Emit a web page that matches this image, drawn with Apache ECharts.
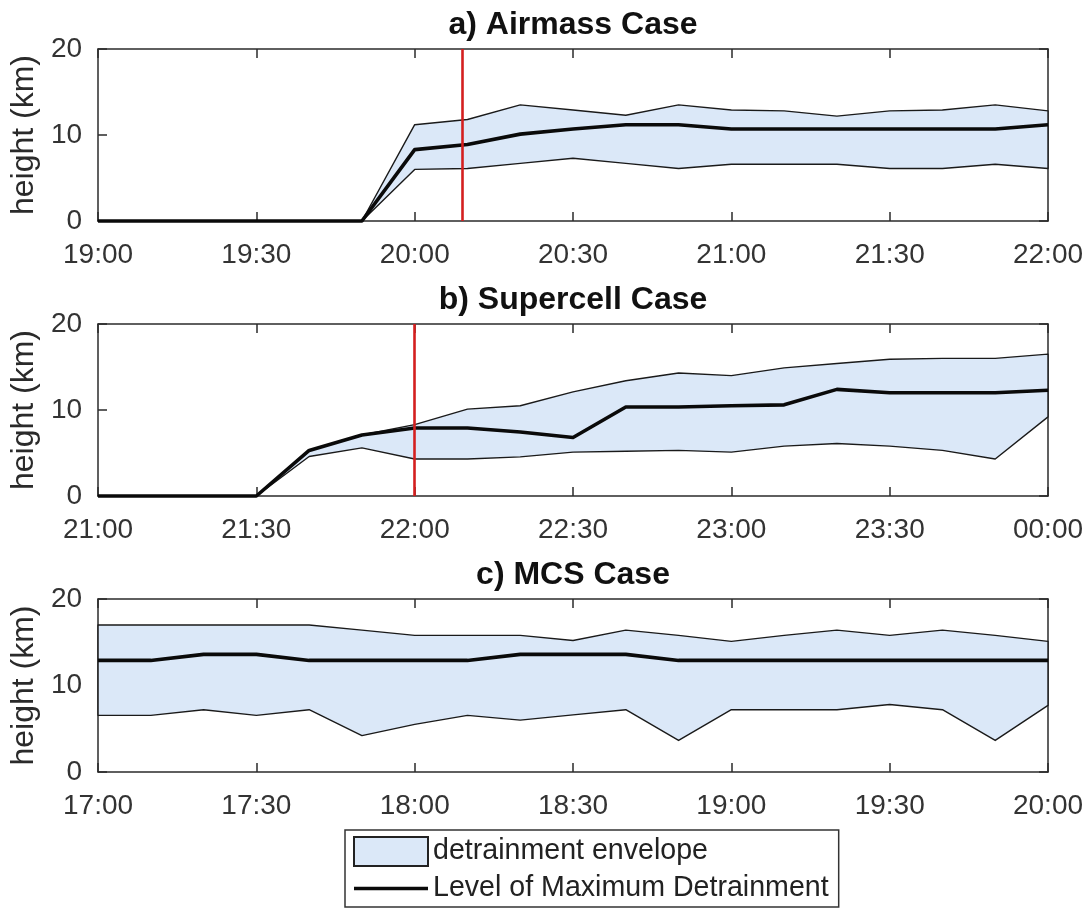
<!DOCTYPE html>
<html>
<head>
<meta charset="utf-8">
<script src="https://cdn.jsdelivr.net/npm/echarts@6/dist/echarts.min.js"></script>
<style>
  html, body { margin: 0; padding: 0; background: #fff; }
  #chart { width: 1091px; height: 911px; }
</style>
</head>
<body>
<div id="chart"></div>
<script>
// Sample times, minutes after the start of each 3-hour window (10-minute steps)
const minutes = [0, 10, 20, 30, 40, 50, 60, 70, 80, 90, 100, 110, 120, 130, 140, 150, 160, 170, 180];

// Time-axis tick labels, one every 30 minutes
const ticksA = ['19:00', '19:30', '20:00', '20:30', '21:00', '21:30', '22:00'];
const ticksB = ['21:00', '21:30', '22:00', '22:30', '23:00', '23:30', '00:00'];
const ticksC = ['17:00', '17:30', '18:00', '18:30', '19:00', '19:30', '20:00'];

// a) Airmass case: envelope top / bottom and level of maximum detrainment (km)
const upperA = [0, 0, 0, 0, 0, 0, 11.2, 11.8, 13.5, 12.9, 12.3, 13.5, 12.9, 12.8, 12.2, 12.8, 12.9, 13.5, 12.8];
const lmdA   = [0, 0, 0, 0, 0, 0, 8.3, 8.9, 10.1, 10.7, 11.2, 11.2, 10.7, 10.7, 10.7, 10.7, 10.7, 10.7, 11.2];
const lowerA = [0, 0, 0, 0, 0, 0, 6.0, 6.1, 6.7, 7.3, 6.7, 6.1, 6.6, 6.6, 6.6, 6.1, 6.1, 6.6, 6.1];

// b) Supercell case
const upperB = [0, 0, 0, 0, 5.3, 7.1, 8.3, 10.1, 10.5, 12.1, 13.4, 14.3, 14.0, 14.9, 15.4, 15.9, 16.0, 16.0, 16.5];
const lmdB   = [0, 0, 0, 0, 5.3, 7.1, 7.9, 7.9, 7.45, 6.8, 10.35, 10.35, 10.5, 10.6, 12.4, 12.0, 12.0, 12.0, 12.3];
const lowerB = [0, 0, 0, 0, 4.6, 5.6, 4.3, 4.3, 4.55, 5.1, 5.2, 5.3, 5.1, 5.8, 6.1, 5.8, 5.3, 4.3, 9.2];

// c) MCS case
const upperC = [17.0, 17.0, 17.0, 17.0, 17.0, 16.4, 15.8, 15.8, 15.8, 15.2, 16.4, 15.8, 15.1, 15.8, 16.4, 15.8, 16.4, 15.8, 15.1];
const lmdC   = [12.9, 12.9, 13.6, 13.6, 12.9, 12.9, 12.9, 12.9, 13.6, 13.6, 13.6, 12.9, 12.9, 12.9, 12.9, 12.9, 12.9, 12.9, 12.9];
const lowerC = [6.55, 6.55, 7.2, 6.55, 7.2, 4.2, 5.5, 6.55, 6.0, 6.6, 7.2, 3.65, 7.2, 7.2, 7.2, 7.8, 7.2, 3.65, 7.7];

// Vertical marker positions (minutes after window start)
const markA = 69;
const markB = 60;

const titles = ['a) Airmass Case', 'b) Supercell Case', 'c) MCS Case'];
const ENV_NAME = 'detrainment envelope';
const LMD_NAME = 'Level of Maximum Detrainment';

const FONT = '"Liberation Sans", Arial, Helvetica, sans-serif';
const AXIS_COLOR = '#2b2b2b';
const ENV_FILL = '#dbe8f8';

const panels = [
  { ticks: ticksA, upper: upperA, lmd: lmdA, lower: lowerA, mark: markA, top: 49, height: 172 },
  { ticks: ticksB, upper: upperB, lmd: lmdB, lower: lowerB, mark: markB, top: 324, height: 172 },
  { ticks: ticksC, upper: upperC, lmd: lmdC, lower: lowerC, mark: null, top: 599, height: 173 }
];

const grid = [], xAxis = [], yAxis = [], series = [], title = [];

function envelopeRenderer(upper, lower) {
  return function (params, api) {
    const pts = [];
    for (let i = 0; i < minutes.length; i++) pts.push(api.coord([minutes[i], upper[i]]));
    for (let i = minutes.length - 1; i >= 0; i--) pts.push(api.coord([minutes[i], lower[i]]));
    return {
      type: 'polygon',
      shape: { points: pts },
      style: { fill: ENV_FILL, stroke: '#1a1a1a', lineWidth: 1.4, lineJoin: 'round' }
    };
  };
}

// inward-pointing ticks, as on a boxed axes frame
function innerTicks() {
  return { show: true, inside: true, length: 9, lineStyle: { color: AXIS_COLOR, width: 1.5 } };
}
function frameLine() {
  return { show: true, onZero: false, lineStyle: { color: AXIS_COLOR, width: 1.5 } };
}

panels.forEach(function (p, k) {
  grid.push({ left: 98, right: 43, top: p.top, height: p.height, show: false });

  // bottom time axis with labels
  xAxis.push({
    gridIndex: k, type: 'value', position: 'bottom', min: 0, max: 180, interval: 30,
    axisLine: frameLine(), splitLine: { show: false },
    axisTick: innerTicks(),
    axisLabel: {
      fontFamily: FONT, fontSize: 28, color: '#333', margin: 20,
      formatter: (function (labels) { return function (v) { return labels[Math.round(v / 30)]; }; })(p.ticks)
    }
  });
  // top mirror axis (ticks only)
  xAxis.push({
    gridIndex: k, type: 'value', position: 'top', min: 0, max: 180, interval: 30,
    axisLine: frameLine(), splitLine: { show: false },
    axisTick: innerTicks(), axisLabel: { show: false }
  });

  yAxis.push({
    gridIndex: k, type: 'value', position: 'left', min: 0, max: 20, interval: 10,
    axisLine: frameLine(), splitLine: { show: false },
    axisTick: innerTicks(),
    axisLabel: { fontFamily: FONT, fontSize: 28, color: '#333', margin: 16 },
    name: 'height (km)', nameLocation: 'middle', nameGap: 52,
    nameTextStyle: { fontFamily: FONT, fontSize: 32, color: '#2a2a2a' }
  });
  yAxis.push({
    gridIndex: k, type: 'value', position: 'right', min: 0, max: 20, interval: 10,
    axisLine: frameLine(), splitLine: { show: false },
    axisTick: innerTicks(), axisLabel: { show: false }
  });

  title.push({
    text: titles[k], left: 568, top: p.top - 45, textAlign: 'center',
    textStyle: { fontFamily: FONT, fontSize: 32, fontWeight: 'bold', color: '#111' }
  });

  series.push({
    name: ENV_NAME, type: 'custom', xAxisIndex: 2 * k, yAxisIndex: 2 * k,
    data: [[0, 0]], renderItem: envelopeRenderer(p.upper, p.lower), z: 2,
    itemStyle: { color: ENV_FILL, borderColor: '#1a1a1a', borderWidth: 1.5 },
    silent: true
  });

  const lmdSeries = {
    name: LMD_NAME, type: 'line', xAxisIndex: 2 * k, yAxisIndex: 2 * k,
    data: minutes.map(function (t, i) { return [t, p.lmd[i]]; }),
    symbol: 'none', clip: false, z: 3,
    lineStyle: { color: '#0a0a0a', width: 3.6, join: 'round' },
    itemStyle: { color: '#0a0a0a' },
    animation: false
  };
  if (p.mark !== null) {
    lmdSeries.markLine = {
      symbol: 'none', silent: true, animation: false,
      label: { show: false },
      lineStyle: { color: '#d41f1f', width: 2.6, type: 'solid' },
      data: [{ xAxis: p.mark }]
    };
  }
  series.push(lmdSeries);
});

const chart = echarts.init(document.getElementById('chart'), null, { renderer: 'canvas' });
chart.setOption({
  backgroundColor: '#fff',
  animation: false,
  title: title,
  grid: grid,
  xAxis: xAxis,
  yAxis: yAxis,
  legend: {
    left: 345, top: 830, orient: 'vertical',
    padding: [6, 10, 4, 8], itemGap: 7, itemWidth: 74, itemHeight: 29,
    borderColor: '#333', borderWidth: 1.5, backgroundColor: '#fff',
    selectedMode: false,
    textStyle: { fontFamily: FONT, fontSize: 28.6, color: '#222' },
    data: [
      { name: ENV_NAME, icon: 'rect', itemStyle: { color: ENV_FILL, borderColor: '#222', borderWidth: 2 } },
      { name: LMD_NAME, icon: 'path://M0,0H74V3.6H0Z', itemStyle: { color: '#0a0a0a', borderWidth: 0 } }
    ]
  },
  series: series
});
</script>
</body>
</html>
